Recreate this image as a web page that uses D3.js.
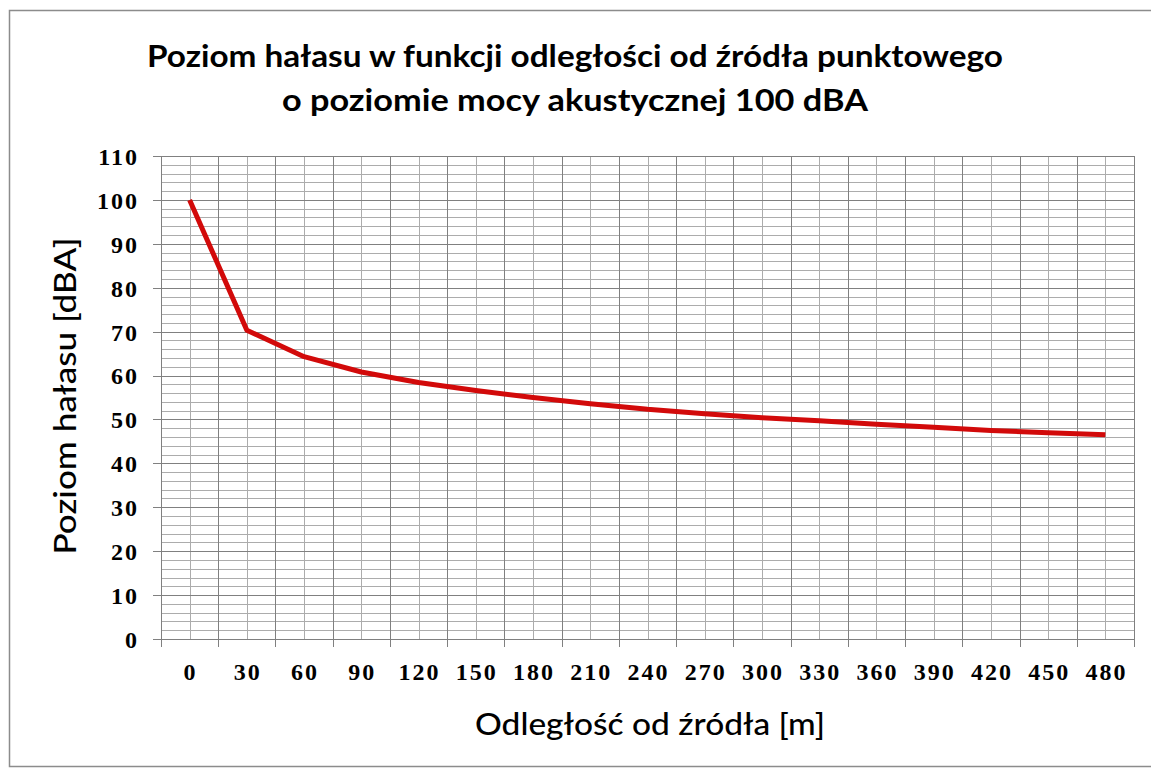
<!DOCTYPE html>
<html>
<head>
<meta charset="utf-8">
<script src="https://cdn.jsdelivr.net/npm/d3@7"></script>
<style>
  body { margin: 0; background: #fff; }
  .title, .axis-title { font-family: Lato, "Open Sans", sans-serif; fill: #000; }
  .tick-label { font-family: "Liberation Serif", "Times New Roman", serif; font-weight: bold; fill: #000; }
</style>
</head>
<body>
<div class="chart"></div>
<script>
var width = 1151, height = 769;
var plot = { left: 161, right: 1134, top: 156, bottom: 639 };

// odległość od źródła [m] i poziom hałasu [dBA]
var distances = [0, 30, 60, 90, 120, 150, 180, 210, 240, 270, 300, 330, 360, 390, 420, 450, 480];
var noiseLevels = [100, 70.3, 64.3, 60.8, 58.4, 56.6, 55.0, 53.6, 52.3, 51.3, 50.4, 49.7, 48.9, 48.2, 47.5, 47.0, 46.5];
var yTickValues = [0, 10, 20, 30, 40, 50, 60, 70, 80, 90, 100, 110];
var titleLines = ["Poziom hałasu w funkcji odległości od źródła punktowego", "o poziomie mocy akustycznej 100 dBA"];
var titleWidths = [856, 586];
var xTitle = "Odległość od źródła [m]";
var yTitle = "Poziom hałasu [dBA]";

var svg = d3.select(".chart")
  .append("svg")
    .attr("width", width)
    .attr("height", height);

// ramka wykresu
svg.append("rect")
  .attr("x", 9.5).attr("y", 10.5)
  .attr("width", 1150).attr("height", 756)
  .attr("fill", "#fff")
  .attr("stroke", "#8c8c8c")
  .attr("stroke-width", 1.5);

var x_scale = d3.scaleBand()
  .domain(distances)
  .range([plot.left, plot.right])
  .padding(0);

var y_scale = d3.scaleLinear()
  .domain([0, 110])
  .range([plot.bottom, plot.top]);

var grid = svg.append("g").attr("class", "grid");

// poziome linie pomocnicze co 2 dBA
grid.selectAll(".h-minor")
  .data(d3.range(0, 111, 2).filter(function(v){ return v % 10 != 0; }))
  .enter().append("line")
    .attr("x1", plot.left).attr("x2", plot.right)
    .attr("y1", function(d){ return Math.round(y_scale(d)) + 0.5; })
    .attr("y2", function(d){ return Math.round(y_scale(d)) + 0.5; })
    .attr("stroke", "#acacac");

// pionowe linie w środku kategorii
grid.selectAll(".v-minor")
  .data(distances)
  .enter().append("line")
    .attr("x1", function(d){ return Math.round(x_scale(d) + x_scale.bandwidth() / 2) + 0.5; })
    .attr("x2", function(d){ return Math.round(x_scale(d) + x_scale.bandwidth() / 2) + 0.5; })
    .attr("y1", plot.top).attr("y2", plot.bottom)
    .attr("stroke", "#acacac");

// główne linie poziome + znaczniki osi Y
grid.selectAll(".h-major")
  .data(yTickValues)
  .enter().append("line")
    .attr("x1", plot.left - 8).attr("x2", plot.right)
    .attr("y1", function(d){ return Math.round(y_scale(d)) + 0.5; })
    .attr("y2", function(d){ return Math.round(y_scale(d)) + 0.5; })
    .attr("stroke", "#808080");

// granice kategorii + znaczniki osi X
var bounds = distances.map(function(d){ return x_scale(d); }).concat([plot.right]);
grid.selectAll(".v-major")
  .data(bounds)
  .enter().append("line")
    .attr("x1", function(d){ return Math.round(d) + 0.5; })
    .attr("x2", function(d){ return Math.round(d) + 0.5; })
    .attr("y1", plot.top).attr("y2", plot.bottom + 8)
    .attr("stroke", "#808080");

// etykiety osi Y
svg.append("g")
  .attr("transform", "translate(" + (plot.left - 22) + ",0)")
  .call(d3.axisLeft(y_scale).tickValues(yTickValues).tickSize(0).tickPadding(0))
  .call(function(g){ g.select(".domain").remove(); })
  .selectAll("text")
    .attr("class", "tick-label")
    .attr("font-size", 24)
    .attr("letter-spacing", 2)
    .attr("dy", "0.35em");

// etykiety osi X
svg.append("g")
  .attr("transform", "translate(1," + (plot.bottom + 24) + ")")
  .call(d3.axisBottom(x_scale).tickSize(0).tickPadding(0))
  .call(function(g){ g.select(".domain").remove(); })
  .selectAll("text")
    .attr("class", "tick-label")
    .attr("font-size", 24)
    .attr("letter-spacing", 2)
    .attr("dy", "0.72em");

// linia danych
var linePath = d3.line()
  .x(function(d, i){ return x_scale(distances[i]) + x_scale.bandwidth() / 2; })
  .y(function(d){ return y_scale(d); });

svg.append("path")
  .attr("d", linePath(noiseLevels))
  .attr("fill", "none")
  .attr("stroke", "#d20a0a")
  .attr("stroke-width", 5)
  .attr("stroke-linejoin", "round");

// tytuł
svg.selectAll(".title")
  .data(titleLines)
  .enter().append("text")
    .attr("class", "title")
    .attr("x", 575)
    .attr("y", function(d, i){ return 67 + i * 44; })
    .attr("text-anchor", "middle")
    .attr("font-size", 31)
    .attr("font-weight", "bold")
    .attr("textLength", function(d, i){ return titleWidths[i]; })
    .attr("lengthAdjust", "spacingAndGlyphs")
    .text(function(d){ return d; });

svg.append("text")
  .attr("class", "axis-title")
  .attr("x", 650).attr("y", 735)
  .attr("text-anchor", "middle")
  .attr("font-size", 31)
  .attr("font-weight", 500)
  .attr("textLength", 350)
  .attr("lengthAdjust", "spacingAndGlyphs")
  .text(xTitle);

svg.append("text")
  .attr("class", "axis-title")
  .attr("transform", "translate(76,396) rotate(-90)")
  .attr("text-anchor", "middle")
  .attr("font-size", 31)
  .attr("font-weight", 500)
  .attr("textLength", 317)
  .attr("lengthAdjust", "spacingAndGlyphs")
  .text(yTitle);
</script>
</body>
</html>
